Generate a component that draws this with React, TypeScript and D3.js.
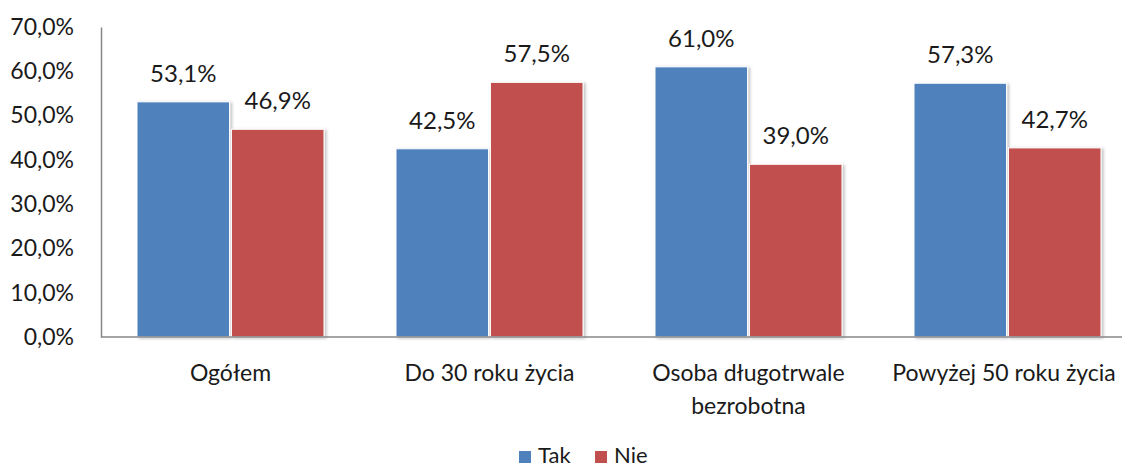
import React, {useEffect, useRef} from "react";
import {axisLeft, format, scaleBand, scaleLinear, select} from "d3";

// data
const categories = ["Ogółem", "Do 30 roku życia", "Osoba długotrwale bezrobotna", "Powyżej 50 roku życia"];
const keys = ["Tak", "Nie"];
const tak = [0.531, 0.425, 0.61, 0.573];
const nie = [0.469, 0.575, 0.39, 0.427];
const yTicks = [0, 0.1, 0.2, 0.3, 0.4, 0.5, 0.6, 0.7];

const colors = ["#4F81BD", "#C0504D"];
const FONT = "Lato, 'Open Sans', sans-serif";

const pct = (v: number) => format(".1f")(v * 100).replace(".", ",") + "%";

// wrap long category names like Excel does
function wrap(label: string, maxChars: number) {
    const words = label.split(" ");
    const lines: string[] = [];
    let cur = "";
    words.forEach(w => {
        const next = cur ? cur + " " + w : w;
        if (next.length > maxChars && cur) {
            lines.push(cur);
            cur = w;
        } else cur = next;
    });
    if (cur) lines.push(cur);
    return lines;
}

function App() {
    const svgRef = useRef<SVGSVGElement>(null);

    useEffect(() => {
        const width = 1122;
        const svg = select(svgRef.current);
        svg.selectAll("*").remove();

        const data = categories.map((c, i) => ({cat: c, Tak: tak[i], Nie: nie[i]}));

        const left = 101, top = 27, bottom = 337;
        const band = 259;

        const x0 = scaleBand()
            .domain(categories)
            .range([left, left + band * categories.length])
            .padding(0);

        const x1 = scaleBand()
            .domain(keys)
            .range([36, 223])
            .paddingInner(0.02);

        const y = scaleLinear()
            .domain([0, 0.7])
            .range([bottom, top]);

        const defs = svg.append("defs");
        const f = defs.append("filter").attr("id", "shadow")
            .attr("x", "-10%").attr("y", "-10%").attr("width", "130%").attr("height", "130%");
        f.append("feDropShadow")
            .attr("dx", 2).attr("dy", 1).attr("stdDeviation", 1.5)
            .attr("flood-color", "#000").attr("flood-opacity", 0.25);

        // y axis
        const yAxis = axisLeft(y).tickValues(yTicks).tickFormat(d => pct(d as number)).tickSize(0).tickPadding(27);
        const gy = svg.append("g")
            .attr("transform", `translate(${left},0)`)
            .call(yAxis);
        gy.select(".domain").attr("stroke", "#878787").attr("stroke-width", 1.5);
        gy.selectAll("text")
            .attr("font-family", FONT)
            .attr("font-size", 23)
            .attr("fill", "#1a1a1a");

        // bars
        const groups = svg.selectAll(".grp")
            .data(data)
            .join("g")
            .attr("class", "grp")
            .attr("transform", d => `translate(${x0(d.cat)},0)`);

        groups.selectAll("rect")
            .data(d => keys.map((k, i) => ({key: k, value: (d as any)[k] as number, i})))
            .join("rect")
            .attr("x", d => x1(d.key)!)
            .attr("y", d => y(d.value))
            .attr("width", x1.bandwidth())
            .attr("height", d => y(0) - y(d.value))
            .attr("fill", d => colors[d.i])
            .attr("stroke", "#fff")
            .attr("stroke-width", 1)
            .attr("filter", "url(#shadow)");

        groups.selectAll("text.val")
            .data(d => keys.map((k, i) => ({key: k, value: (d as any)[k] as number, i})))
            .join("text")
            .attr("class", "val")
            .attr("x", d => x1(d.key)! + x1.bandwidth() / 2)
            .attr("y", d => y(d.value) - 20)
            .attr("text-anchor", "middle")
            .attr("font-family", FONT)
            .attr("font-size", 24)
            .attr("fill", "#1a1a1a")
            .text(d => pct(d.value));

        // x axis line
        svg.append("line")
            .attr("x1", left).attr("x2", width)
            .attr("y1", bottom).attr("y2", bottom)
            .attr("stroke", "#878787").attr("stroke-width", 1.5);

        // category labels
        const labels = svg.selectAll(".cat")
            .data(categories)
            .join("text")
            .attr("class", "cat")
            .attr("text-anchor", "middle")
            .attr("font-family", FONT)
            .attr("font-size", 23)
            .attr("fill", "#1a1a1a");
        labels.each(function (d) {
            const cx = Math.min(x0(d)! + x0.bandwidth() / 2, 1004);
            select(this).selectAll("tspan")
                .data(wrap(d, 21))
                .join("tspan")
                .attr("x", cx)
                .attr("y", (l, i) => 381 + i * 33)
                .text(l => l);
        });

        // legend
        const legend = svg.append("g").attr("transform", "translate(519,0)");
        const items = [{k: keys[0], x: 0}, {k: keys[1], x: 76}];
        items.forEach((it, i) => {
            legend.append("rect")
                .attr("x", it.x).attr("y", 451)
                .attr("width", 12).attr("height", 12)
                .attr("fill", colors[i]);
            legend.append("text")
                .attr("x", it.x + 19).attr("y", 463)
                .attr("font-family", FONT)
                .attr("font-size", 22)
                .attr("fill", "#1a1a1a")
                .text(it.k);
        });
    }, []);

    return (
        <svg ref={svgRef} width={1122} height={468}
             style={{position: "absolute", left: 0, top: 0, background: "#fff"}}/>
    );
}

export default App;
